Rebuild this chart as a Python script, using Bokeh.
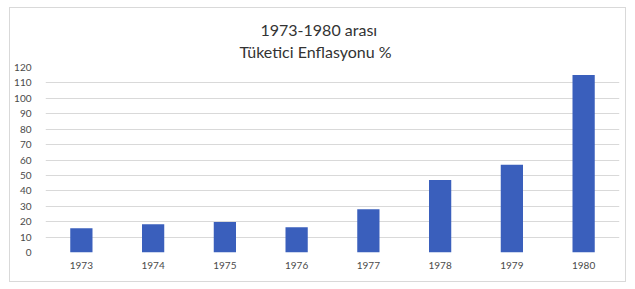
from bokeh.plotting import figure
from bokeh.models import FactorRange, Range1d, Title, SingleIntervalTicker
from bokeh.embed import file_html
from bokeh.resources import INLINE

years = ["1973", "1974", "1975", "1976", "1977", "1978", "1979", "1980"]
inflation = [15.7, 18.3, 19.8, 16.4, 28.1, 47.1, 56.9, 115.2]
title_line1 = "1973-1980 arası"
title_line2 = "Tüketici Enflasyonu %"

FONT = "Lato"
TXT = "#4A4A4A"

p = figure(x_range=FactorRange(factors=years, range_padding=0),
           y_range=Range1d(0, 120),
           width=617, height=275,
           output_backend="svg", toolbar_location=None,
           min_border_left=35, min_border_right=8,
           min_border_top=59, min_border_bottom=31)
p.margin = (7, 0, 0, 9)
p.styles = {"border": "1px solid #D9D9D9", "box-sizing": "border-box"}

p.vbar(x=years, top=inflation, width=0.31, color="#3A5FBC", line_color=None)

p.title.text = title_line1
p.title.align = "left"
p.title.offset = 215
p.title.text_font = FONT
p.title.text_font_size = "16px"
p.title.text_font_style = "normal"
p.title.text_color = "#333333"
try:
    p.title.standoff = -11
except Exception:
    p.title.standoff = 0
t2 = Title(text=title_line2, align="left", offset=194, text_font=FONT,
           text_font_size="16px", text_font_style="normal", text_color="#333333",
           standoff=13)
p.add_layout(t2, "above")

p.outline_line_color = None
p.background_fill_color = "white"
p.border_fill_color = "white"

p.xgrid.grid_line_color = None
p.ygrid.grid_line_color = "#D9D9D9"
p.ygrid.grid_line_width = 1
p.yaxis.ticker = SingleIntervalTicker(interval=10)

for ax in (p.xaxis, p.yaxis):
    ax.axis_line_color = None
    ax.major_tick_line_color = None
    ax.minor_tick_line_color = None
    ax.major_tick_in = 0
    ax.major_tick_out = 0
    ax.major_label_text_font = FONT
    ax.major_label_text_font_size = "10px"
    ax.major_label_text_color = TXT
p.yaxis.major_label_standoff = 10
p.xaxis.major_label_standoff = 9

open("out.html", "w").write(file_html(p, INLINE))
